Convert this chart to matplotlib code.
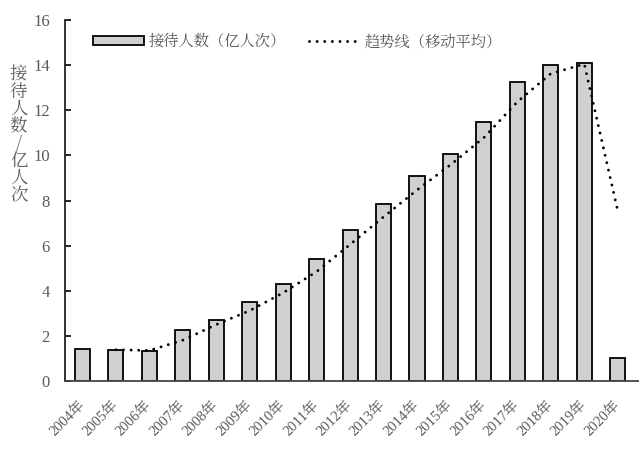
import numpy as np
import matplotlib.pyplot as plt
import matplotlib.transforms as mtransforms
import pandas as pd

cjk = ['Noto Serif CJK SC', 'Noto Sans CJK SC', 'DejaVu Sans']
plt.rcParams['font.family'] = ['Liberation Serif'] + cjk

years = [f"{y}年" for y in range(2004, 2021)]
visitors = [1.40, 1.37, 1.34, 2.28, 2.72, 3.52, 4.30, 5.40, 6.70, 7.85,
            9.08, 10.08, 11.50, 13.25, 14.00, 14.10, 1.00]

# 2-period moving average trend line
trend = pd.Series(visitors).rolling(2).mean()

grey = "#595959"
fig = plt.figure(figsize=(6.4, 4.49), dpi=100)
ax = fig.add_axes([0.1016, 0.1514, 0.895, 0.804])

x = np.arange(len(years))
bars = ax.bar(x, visitors, width=0.45, color="#d0d0d0", edgecolor="black", linewidth=1.3,
              label="接待人数（亿人次）", zorder=2)
line, = ax.plot(x, trend, color="black", linestyle=(0, (0.01, 2.6)), linewidth=2.1,
                dash_capstyle="round", label="趋势线（移动平均）", zorder=3)

ax.set_xlim(-0.52, 16.6)
ax.set_ylim(0, 16)
ax.set_yticks(np.arange(0, 17, 2))
ax.set_xticks(x)
ax.set_xticklabels(years, rotation=45, ha="right", va="center", rotation_mode="anchor",
                   fontsize=10.5, color=grey)
shift = mtransforms.ScaledTranslation(-7 / 100, 0, fig.dpi_scale_trans)
for lab in ax.get_xticklabels():
    lab.set_transform(lab.get_transform() + shift)
ax.tick_params(axis="y", direction="in", length=4, labelsize=12, labelcolor=grey, pad=11, width=1.2)
ax.tick_params(axis="x", length=0, pad=15.5)

for s in ["top", "right"]:
    ax.spines[s].set_visible(False)
ax.spines["left"].set_linewidth(1.3)
ax.spines["bottom"].set_linewidth(1.3)
ax.spines["left"].set_color("#222222")
ax.spines["bottom"].set_color("#444444")

fig.text(0.029, 0.853, "\n".join("接待人数/亿人次"), fontsize=12.5, color=grey,
         ha="center", va="top", linespacing=0.98, family=cjk)

leg = ax.legend([bars, line], ["接待人数（亿人次）", "趋势线（移动平均）"],
                loc="upper left", bbox_to_anchor=(0.025, 1.0), ncol=2, frameon=False,
                handlelength=3.3, handleheight=0.55, columnspacing=1.5, handletextpad=0.35,
                prop={'family': cjk, 'size': 11})
for t in leg.get_texts():
    t.set_color(grey)

fig.savefig("out.png", dpi=100)
